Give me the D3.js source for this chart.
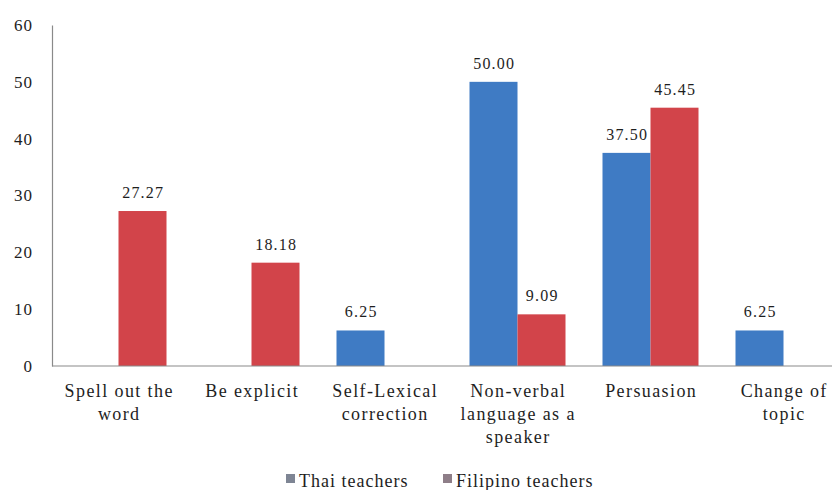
<!DOCTYPE html>
<html>
<head>
<meta charset="utf-8">
<script src="https://cdn.jsdelivr.net/npm/d3@7"></script>
</head>
<body style="margin:0">
<script>
const categories = [
    ['Spell out the', 'word'],
    ['Be explicit'],
    ['Self-Lexical', 'correction'],
    ['Non-verbal', 'language as a', 'speaker'],
    ['Persuasion'],
    ['Change of', 'topic']
];
const seriesNames = ['Thai teachers', 'Filipino teachers'];
const thaiValues = [null, null, 6.25, 50.00, 37.50, 6.25];
const filipinoValues = [27.27, 18.18, null, 9.09, 45.45, null];
const yTicks = [0, 10, 20, 30, 40, 50, 60];

const width = 832;
const height = 490;
const margin = { top: 25, right: -18, bottom: 124, left: 52 };
const barColors = ['#3f7bc4', '#d2444a'];
const legendColors = ['#7e8594', '#8e7e88'];
const font = 'Liberation Serif';
const ink = '#1e1e1e';

const svg = d3.select('body')
    .append('svg')
    .attr('width', width)
    .attr('height', height)
    .attr('font-family', font)
    .style('display', 'block');

const x0 = d3.scaleBand()
    .domain(d3.range(categories.length))
    .range([margin.left, width - margin.right]);

const x1 = d3.scaleBand()
    .domain([0, 1])
    .range([0, 96]);

const y = d3.scaleLinear()
    .domain([0, 60])
    .range([height - margin.bottom, margin.top]);

const rows = [thaiValues, filipinoValues];

const marks = [];
rows.forEach((values, s) => {
    values.forEach((v, i) => {
        if (v == null) return;
        marks.push({ i, s, v });
    });
});

const barX = d => x0(d.i) + x0.bandwidth() / 2 - 48 + x1(d.s);

svg.selectAll('rect.bar')
    .data(marks)
    .join('rect')
    .attr('class', 'bar')
    .attr('x', barX)
    .attr('y', d => y(d.v))
    .attr('width', x1.bandwidth())
    .attr('height', d => y(0) - y(d.v))
    .attr('fill', d => barColors[d.s]);

svg.selectAll('text.value')
    .data(marks)
    .join('text')
    .attr('class', 'value')
    .attr('x', d => barX(d) + x1.bandwidth() / 2 + 0.7)
    .attr('y', d => y(d.v) - 13)
    .attr('text-anchor', 'middle')
    .attr('fill', ink)
    .attr('font-family', font)
    .attr('font-size', 16)
    .attr('letter-spacing', 1.2)
    .text(d => d.v.toFixed(2));

// y axis
const yAxis = svg.append('g')
    .attr('transform', `translate(${margin.left},0)`)
    .call(d3.axisLeft(y).tickValues(yTicks).tickSize(0).tickPadding(19))
    .attr('font-family', font)
    .attr('font-size', 17);
yAxis.select('.domain').attr('stroke', '#8a8a8a').attr('stroke-width', 1.2);
yAxis.selectAll('text')
    .attr('fill', ink)
    .attr('letter-spacing', 1);

// x axis line
svg.append('line')
    .attr('x1', margin.left)
    .attr('x2', width)
    .attr('y1', y(0))
    .attr('y2', y(0))
    .attr('stroke', '#8a8a8a')
    .attr('stroke-width', 1.2);

// category labels
const catLabels = svg.selectAll('text.cat')
    .data(categories)
    .join('text')
    .attr('class', 'cat')
    .attr('text-anchor', 'middle')
    .attr('fill', ink)
    .attr('font-family', font)
    .attr('font-size', 18)
    .attr('letter-spacing', 1.4)
    .attr('transform', (d, i) => `translate(${x0(i) + x0.bandwidth() / 2 + 0.7},${y(0) + 31})`);

catLabels.selectAll('tspan')
    .data(d => d)
    .join('tspan')
    .attr('x', 0)
    .attr('dy', (d, j) => j === 0 ? 0 : 23)
    .text(d => d);

// legend
const legendItems = [
    { name: seriesNames[0], x: 286 },
    { name: seriesNames[1], x: 443 }
];
const legend = svg.append('g');
legend.selectAll('rect')
    .data(legendItems)
    .join('rect')
    .attr('x', d => d.x)
    .attr('y', 474)
    .attr('width', 9)
    .attr('height', 9)
    .attr('fill', (d, i) => legendColors[i]);
legend.selectAll('text')
    .data(legendItems)
    .join('text')
    .attr('x', d => d.x + 13)
    .attr('y', 487)
    .attr('fill', ink)
    .attr('font-family', font)
    .attr('font-size', 18)
    .attr('letter-spacing', 1)
    .text(d => d.name);
</script>
</body>
</html>
